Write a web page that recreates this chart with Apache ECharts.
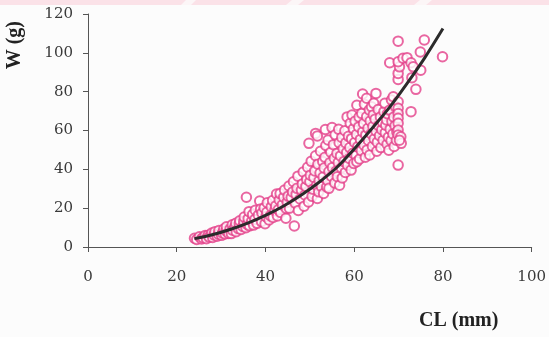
<!DOCTYPE html>
<html>
<head>
<meta charset="utf-8">
<script src="https://cdn.jsdelivr.net/npm/echarts@6/dist/echarts.min.js"></script>
<style>
  html, body { margin: 0; padding: 0; background: #fcfcfc; }
  #chart { width: 549px; height: 337px; }
</style>
</head>
<body>
<div id="chart"></div>
<script>
// Carapace length (mm) vs. body weight (g) for each measured specimen
var specimens = [
  [24.0,4.5],[24.5,3.9],[25.1,5.3],[25.6,4.1],[25.9,4.8],[26.4,5.9],[26.7,4.3],[27.1,6.1],[27.3,5.1],[27.9,7.2],
  [28.1,4.9],[28.4,6.2],[28.6,7.8],[29.1,5.6],[29.4,6.6],[29.5,8.5],[30.1,6.0],[30.3,7.2],[30.6,9.3],[30.9,6.7],
  [31.1,8.3],[31.2,10.4],[31.7,7.0],[32.0,9.2],[32.3,6.9],[32.5,11.4],[32.6,8.6],[33.1,10.3],[33.3,12.2],[33.4,7.9],
  [33.9,9.4],[34.1,11.9],[34.2,13.5],[34.5,9.0],[34.9,10.6],[35.1,13.1],[35.2,15.4],[35.6,9.9],[35.7,25.6],[35.9,11.6],
  [36.1,14.6],[36.3,18.2],[36.4,10.9],[36.9,13.4],[37.1,16.7],[37.3,11.3],[37.6,14.1],[37.7,18.9],[38.1,12.2],[38.4,16.4],
  [38.7,23.7],[38.9,19.6],[39.1,13.1],[39.2,17.5],[39.7,20.1],[39.9,12.0],[40.1,15.6],[40.3,17.9],[40.4,22.8],[40.8,13.9],
  [41.1,16.1],[41.3,20.7],[41.6,23.9],[41.7,15.2],[42.1,18.7],[42.3,21.1],[42.5,27.3],[42.7,16.0],[42.9,19.2],[43.1,24.2],
  [43.3,27.5],[43.4,17.8],[43.8,21.7],[44.1,25.6],[44.3,29.3],[44.6,14.8],[44.7,19.8],[44.9,23.1],[45.1,26.2],[45.3,31.4],
  [45.4,20.0],[45.8,25.5],[46.1,28.3],[46.3,33.6],[46.5,10.8],[46.7,22.6],[46.9,27.1],[47.1,30.2],[47.3,36.5],[47.4,18.8],
  [47.8,24.7],[48.1,29.3],[48.3,32.4],[48.5,38.6],[48.7,21.0],[48.9,26.8],[49.1,31.2],[49.3,34.8],[49.5,41.1],[49.7,23.2],
  [49.8,53.4],[50.0,33.6],[50.1,37.0],[50.3,44.1],[50.5,26.1],[50.7,29.8],[50.9,35.8],[51.1,39.2],[51.3,47.0],[51.3,58.5],
  [51.5,31.7],[51.7,57.2],[51.7,25.0],[51.8,42.6],[52.0,28.4],[52.1,34.1],[52.3,38.1],[52.4,49.3],[52.6,31.2],[52.9,44.0],
  [53.0,36.0],[53.1,27.6],[53.2,40.7],[53.4,46.2],[53.5,60.5],[53.6,52.3],[53.8,30.9],[54.0,34.3],[54.1,55.1],[54.3,30.2],
  [54.3,38.9],[54.5,43.4],[54.7,48.8],[54.9,36.3],[55.0,61.5],[55.1,41.0],[55.3,52.7],[55.5,45.7],[55.6,33.0],[55.7,57.8],
  [55.9,39.0],[56.1,48.2],[56.2,36.2],[56.4,43.5],[56.5,60.6],[56.6,53.7],[56.7,31.8],[56.9,46.9],[57.1,40.8],[57.2,56.4],
  [57.3,35.6],[57.5,50.6],[57.7,44.0],[57.9,59.9],[58.0,38.4],[58.1,53.6],[58.3,48.7],[58.4,67.0],[58.5,42.1],[58.7,57.0],
  [58.9,45.6],[59.0,51.2],[59.1,63.7],[59.3,39.6],[59.4,55.8],[59.5,68.0],[59.7,48.3],[59.8,60.9],[59.9,43.0],[60.1,53.8],
  [60.2,64.7],[60.4,47.1],[60.5,58.0],[60.6,73.0],[60.6,43.9],[60.8,51.6],[61.0,61.8],[61.1,66.9],[61.2,45.3],[61.4,55.4],
  [61.6,49.6],[61.7,68.8],[61.9,78.8],[61.9,59.2],[62.1,63.6],[62.2,52.4],[62.3,73.5],[62.5,46.2],[62.6,57.6],[62.8,76.6],
  [62.8,67.1],[62.9,50.0],[63.1,61.1],[63.2,54.9],[63.4,70.6],[63.5,47.4],[63.6,64.9],[63.8,58.3],[63.9,72.2],[64.1,51.9],
  [64.2,62.0],[64.3,68.0],[64.4,74.0],[64.5,55.6],[64.7,65.8],[64.9,79.1],[64.9,59.8],[65.1,49.3],[65.2,53.9],[65.4,70.8],
  [65.5,62.5],[65.7,57.3],[65.9,66.9],[66.0,51.2],[66.2,60.4],[66.4,64.2],[66.5,55.0],[66.7,69.7],[66.9,74.0],[67.0,58.8],
  [67.1,62.7],[67.3,65.4],[67.4,52.9],[67.5,68.6],[67.7,56.5],[67.8,49.8],[68.0,70.5],[68.0,94.9],[68.1,60.7],[68.3,54.8],
  [68.4,75.7],[68.5,64.6],[68.7,58.2],[68.8,77.4],[68.9,66.9],[69.0,51.8],[69.2,62.4],[69.3,72.3],[69.5,55.0],[69.6,59.3],
  [69.9,42.2],[69.9,74.8],[69.9,71.4],[69.9,68.8],[69.9,66.3],[69.9,63.7],[69.9,60.2],[69.9,57.7],[70.5,56.8],[70.6,53.4],
  [70.2,55.0],[69.9,86.3],[69.9,89.4],[70.2,92.8],[69.9,95.4],[69.9,106.0],[71.0,97.2],[71.9,97.5],[72.8,94.9],[73.3,92.8],
  [75.0,91.0],[73.0,87.2],[73.9,81.2],[72.8,69.7],[74.9,100.4],[75.8,106.6],[79.9,98.0]
];

// Fitted length-weight curve, sampled along its course
var fitCL = [24, 28, 32, 36, 40, 44, 48, 52, 56, 60, 64, 68, 72, 76, 80];
var fitW  = [4.3, 6.3, 9.0, 12.3, 16.3, 21.0, 26.6, 33.2, 40.8, 50.5, 61.0, 72.0, 84.5, 97.8, 112.5];

var xTicks = [0, 20, 40, 60, 80, 100];
var yTicks = [0, 20, 40, 60, 80, 100, 120];

var fitLine = fitCL.map(function (c, i) { return [c, fitW[i]]; });

var chart = echarts.init(document.getElementById('chart'), null, { renderer: 'canvas' });

var tickFont = { fontFamily: 'DejaVu Serif', fontSize: 15, color: '#3a3a3a' };

chart.setOption({
  backgroundColor: '#fcfcfc',
  animation: false,
  grid: { left: 88, right: 12, top: 14, bottom: 90 },
  xAxis: {
    type: 'value',
    min: xTicks[0], max: xTicks[xTicks.length - 1], interval: 20,
    axisLine: { show: true, lineStyle: { color: '#555', width: 1 } },
    axisTick: { show: true, inside: false, length: 5, lineStyle: { color: '#555' } },
    axisLabel: Object.assign({ margin: 23 }, tickFont),
    splitLine: { show: false }
  },
  yAxis: {
    type: 'value',
    min: yTicks[0], max: yTicks[yTicks.length - 1], interval: 20,
    axisLine: { show: true, lineStyle: { color: '#555', width: 1 } },
    axisTick: { show: true, inside: false, length: 5, lineStyle: { color: '#555' } },
    axisLabel: Object.assign({ margin: 15 }, tickFont),
    splitLine: { show: false }
  },
  graphic: [
    {
      type: 'polygon', z: -1, silent: true,
      shape: { points: [[0,0],[549,0],[549,5],[0,5]] },
      style: { fill: '#fbe2e8' }
    },
    {
      type: 'polygon', z: -1, silent: true,
      shape: { points: [[186,0],[196,0],[191,5],[181,5]] },
      style: { fill: '#fcf6f7' }
    },
    {
      type: 'polygon', z: -1, silent: true,
      shape: { points: [[292,0],[304,0],[298,5],[286,5]] },
      style: { fill: '#fcf6f7' }
    },
    {
      type: 'polygon', z: -1, silent: true,
      shape: { points: [[420,0],[432,0],[426,5],[414,5]] },
      style: { fill: '#fcf6f7' }
    },
    {
      type: 'text', left: 5, top: 21, rotation: Math.PI / 2,
      style: {
        text: 'W (g)', fontFamily: 'Liberation Serif', fontWeight: 'bold',
        fontSize: 20, fill: '#222'
      }
    },
    {
      type: 'text', left: 419, top: 311,
      style: {
        text: 'CL (mm)', fontFamily: 'Liberation Serif', fontWeight: 'bold',
        fontSize: 20, fill: '#222'
      }
    }
  ],
  series: [
    {
      type: 'scatter',
      data: specimens,
      symbol: 'emptyCircle',
      symbolSize: 9.5,
      itemStyle: { color: '#e3408a', borderColor: '#e3408a', borderWidth: 2 },
      z: 2
    },
    {
      type: 'line',
      data: fitLine,
      smooth: 0.3,
      symbol: 'none',
      lineStyle: { color: '#2b2b2b', width: 3 },
      z: 3
    }
  ]
});
</script>
</body>
</html>
